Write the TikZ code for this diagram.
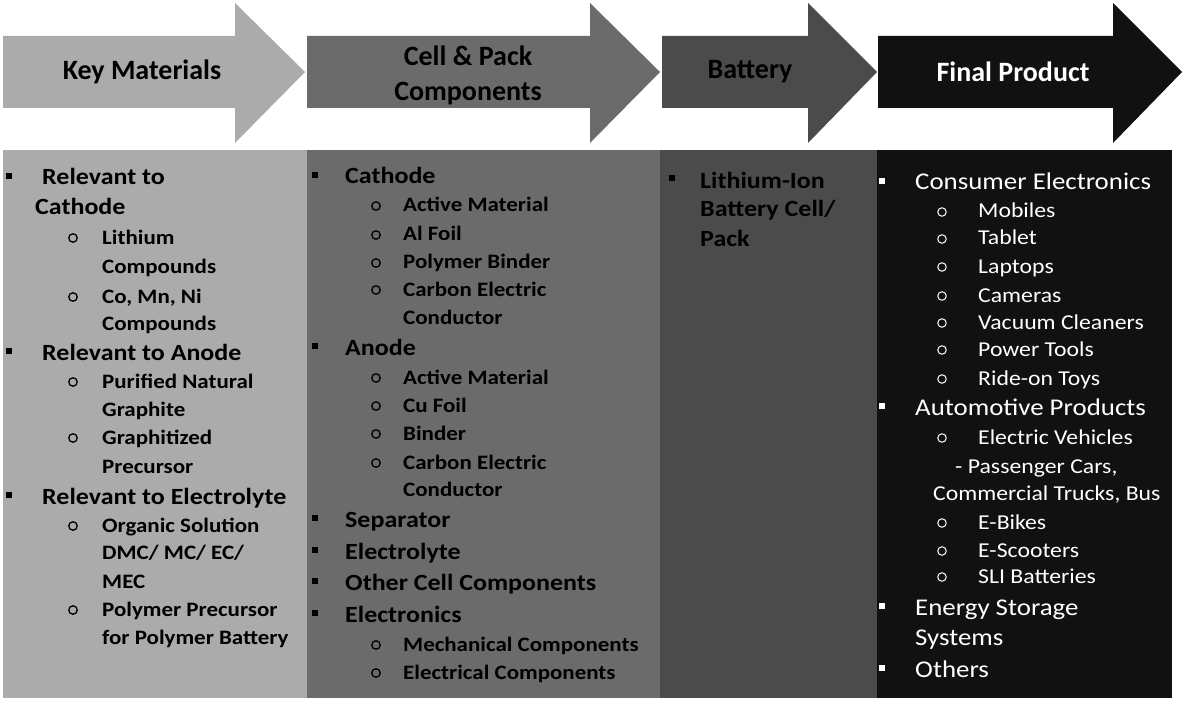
\documentclass[tikz,border=0pt]{standalone}
\usepackage{fontspec}
\setmainfont{Carlito}
\newfontfamily\listfont{Carlito}[FakeStretch=1.12]
\usepackage{tikz}

\definecolor{keygray}{HTML}{ABABAB}
\definecolor{cellgray}{HTML}{6B6B6B}
\definecolor{batgray}{HTML}{4B4B4B}
\definecolor{prodblack}{HTML}{111111}

\tikzset{
  head/.style={font=\fontsize{28}{35}\selectfont\bfseries, align=center, inner sep=0pt},
  lvla/.style={anchor=base west, inner sep=0pt, yshift=-7pt, font=\listfont\fontsize{23.2}{28}\selectfont\bfseries},
  lvlb/.style={anchor=base west, inner sep=0pt, yshift=-6pt, font=\listfont\fontsize{20.5}{28}\selectfont\bfseries},
  proda/.style={lvla, text=white, font=\listfont\fontsize{24}{28}\selectfont},
  prodb/.style={lvlb, text=white, font=\listfont\fontsize{21.2}{28}\selectfont},
  sqbul/.style={fill, inner sep=0pt, minimum size=6.5pt, yshift=2pt},
  cbul/.style={circle, draw, line width=1.3pt, inner sep=0pt, minimum size=8.5pt},
}

\begin{document}
\begin{tikzpicture}[x=1pt, y=-1pt]
\useasboundingbox (0,0) rectangle (1185,703);
%%%%% Header arrows and column bodies %%%%%
\foreach \xa/\xb/\xc/\col in {3/235/305/keygray, 307/590/660/cellgray, 662/808/877/batgray, 878/1113/1182/prodblack}
  \fill[\col] (\xa,36) -- (\xb,36) -- (\xb,3) -- (\xc,72) -- (\xb,143) -- (\xb,108) -- (\xa,108) -- cycle;
\foreach \xa/\xb/\col in {3/307/keygray, 307/660/cellgray, 660/877/batgray, 877/1172/prodblack}
  \fill[\col] (\xa,150) rectangle (\xb,698);

\node[head] (hkey) at (142,72) {Key Materials};
\node[head] (hcell) at (468,75) {Cell \& Pack\\Components};
\node[head] (hbat) at (750,72) {Battery};
\node[head, text=white] (hprod) at (1013,72) {Final Product};

%%%%% Key Materials %%%%%
\foreach \y/\txt [count=\i] in {178/Relevant to, 353/Relevant to Anode, 497/Relevant to Electrolyte}{
  \node[sqbul] (kmb\i) at (9,\y) {};
  \node[lvla] (kma\i) at (42,\y) {\txt};
}
\node[lvla] (kmc) at (35,208) {Cathode};
\foreach \y/\txt [count=\i] in {238/Lithium, 267/Compounds, 297/{Co, Mn, Ni}, 324/Compounds, 382/Purified Natural, 410/Graphite, 438/Graphitized, 467/Precursor, 526/Organic Solution, 553/{DMC/ MC/ EC/}, 582/MEC, 610/Polymer Precursor, 638/for Polymer Battery}
  \node[lvlb] (kmt\i) at (102,\y) {\txt};
\foreach \y [count=\i] in {238,297,382,438,526,610}
  \node[cbul] (kmo\i) at (73,\y) {};

%%%%% Cell & Pack Components %%%%%
\foreach \y/\txt [count=\i] in {177/Cathode, 348/Anode, 520/Separator, 552/Electrolyte, 583/Other Cell Components, 615/Electronics}{
  \node[sqbul] (cpb\i) at (315,\y) {};
  \node[lvla] (cpa\i) at (345,\y) {\txt};
}
\foreach \y/\txt [count=\i] in {206/Active Material, 235/Al Foil, 263/Polymer Binder, 290/Carbon Electric, 318/Conductor, 378/Active Material, 406/Cu Foil, 434/Binder, 463/Carbon Electric, 490/Conductor, 645/Mechanical Components, 673/Electrical Components}
  \node[lvlb] (cpt\i) at (403,\y) {\txt};
\foreach \y [count=\i] in {206,235,263,290,378,406,434,463,645,673}
  \node[cbul] (cpo\i) at (376,\y) {};

%%%%% Battery %%%%%
\node[sqbul] (btb) at (672,180) {};
\foreach \y/\txt [count=\i] in {182/Lithium-Ion, 210/{Battery Cell/}, 240/Pack}
  \node[lvla] (bta\i) at (700,\y) {\txt};

%%%%% Final Product %%%%%
\foreach \y/\txt [count=\i] in {183/Consumer Electronics, 408/Automotive Products, 608/Energy Storage, 670/Others}{
  \node[sqbul, fill=white] (fpb\i) at (882,\y) {};
  \node[proda] (fpa\i) at (915,\y) {\txt};
}
\node[proda] (fpsys) at (915,638) {Systems};
\foreach \y/\txt [count=\i] in {212/Mobiles, 239/Tablet, 267/Laptops, 296/Cameras, 323/Vacuum Cleaners, 350/Power Tools, 379/Ride-on Toys, 438/Electric Vehicles, 523/E-Bikes, 551/E-Scooters, 577/SLI Batteries}{
  \node[cbul, draw=white, line width=1pt] (fpo\i) at (942,\y) {};
  \node[prodb] (fpt\i) at (978,\y) {\txt};
}
\node[prodb] (fppas) at (955,467) {- Passenger Cars,};
\node[prodb] (fpcom) at (933,494) {Commercial Trucks, Bus};
\end{tikzpicture}
\end{document}
